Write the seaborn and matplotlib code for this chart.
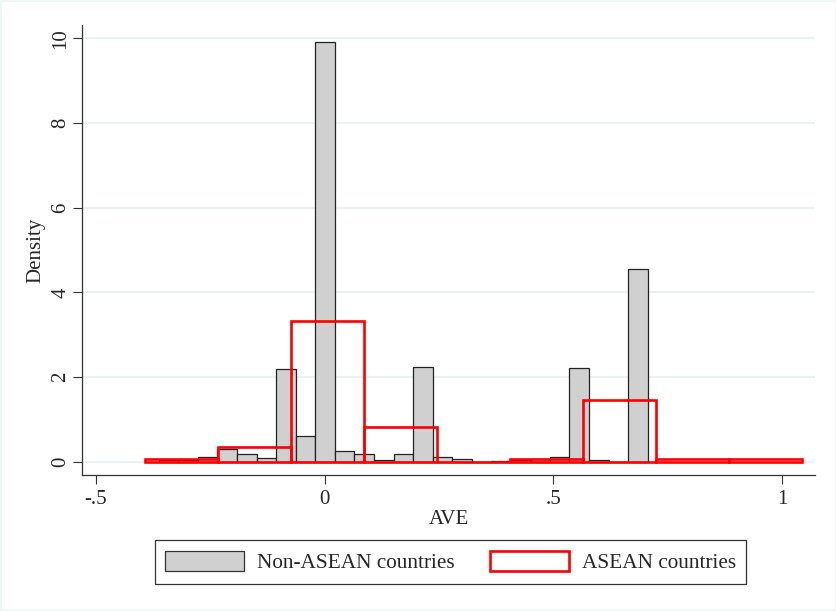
import numpy as np
import pandas as pd
import seaborn as sns
import matplotlib.pyplot as plt
from matplotlib.patches import Patch

# bin edges and densities
gray_edges = [-0.362, -0.319, -0.277, -0.234, -0.191, -0.148, -0.106, -0.063, -0.020,
              0.023, 0.065, 0.108, 0.151, 0.194, 0.236, 0.279, 0.322, 0.364, 0.407,
              0.450, 0.493, 0.535, 0.578, 0.621, 0.663, 0.706]
gray_density = [0.03, 0.03, 0.12, 0.29, 0.18, 0.08, 2.19, 0.61, 9.90, 0.25, 0.17, 0.04,
                0.18, 2.23, 0.10, 0.06, 0.0, 0.02, 0.03, 0.06, 0.10, 2.22, 0.03, 0.0, 4.55]

red_edges = [-0.392, -0.233, -0.073, 0.086, 0.246, 0.405, 0.564, 0.724, 0.883, 1.042]
red_density = [0.07, 0.35, 3.33, 0.83, 0.0, 0.07, 1.45, 0.07, 0.07]

x_ticks = [-0.5, 0, 0.5, 1]
x_ticklabels = ['-.5', '0', '.5', '1']
y_ticks = [0, 2, 4, 6, 8, 10]

sns.set_style('white')
plt.rcParams['font.family'] = ['Liberation Serif', 'DejaVu Serif']

def centers(edges):
    e = np.asarray(edges)
    return (e[:-1] + e[1:]) / 2

gray_df = pd.DataFrame({'AVE': centers(gray_edges), 'w': gray_density})
red_df = pd.DataFrame({'AVE': centers(red_edges), 'w': red_density})

fig = plt.figure(figsize=(8.37, 6.11), dpi=100)
ax = fig.add_axes([82 / 837, 1 - 475 / 611, (815 - 82) / 837, (475 - 25) / 611])

ax.grid(axis='y', color='#eaf2f3', linewidth=1.5, zorder=0)
ax.set_axisbelow(True)

sns.histplot(data=gray_df, x='AVE', weights='w', bins=gray_edges, stat='count',
             color='#d0d0d0', edgecolor='#222222', linewidth=0.9, alpha=1, ax=ax)
sns.histplot(data=red_df, x='AVE', weights='w', bins=red_edges, stat='count',
             fill=False, element='bars', color='red', edgecolor='red', linewidth=1.9, ax=ax)

ax.set_xlim(-0.5297, 1.0714)
ax.set_ylim(-0.314, 10.31)
ax.set_xticks(x_ticks)
ax.set_xticklabels(x_ticklabels)
ax.set_yticks(y_ticks)
ax.tick_params(axis='both', labelsize=15, length=6.5, width=0.8, color='#333333',
               direction='out', bottom=True, left=True, pad=4)
ax.tick_params(axis='y', pad=2)
for lab in ax.get_yticklabels():
    lab.set_rotation(90)
    lab.set_va('center')
ax.set_xlabel('AVE', fontsize=15, labelpad=1)
ax.set_ylabel('Density', fontsize=15, labelpad=4)

for s in ['top', 'right']:
    ax.spines[s].set_visible(False)
for s in ['left', 'bottom']:
    ax.spines[s].set_color('#333333')
    ax.spines[s].set_linewidth(0.9)

handles = [Patch(facecolor='#d0d0d0', edgecolor='#333333', linewidth=0.9),
           Patch(facecolor='white', edgecolor='red', linewidth=1.9)]
leg = fig.legend(handles, ['Non-ASEAN countries', 'ASEAN countries'], loc='center',
                 bbox_to_anchor=(450.5 / 837, 1 - 562 / 611), ncol=2, fontsize=15.3,
                 frameon=True, fancybox=False, handlelength=3.7, handleheight=1.05,
                 columnspacing=1.7, handletextpad=0.6, borderpad=0.5, borderaxespad=0)
leg.get_frame().set_edgecolor('black')
leg.get_frame().set_linewidth(0.9)

fig.patch.set_edgecolor('#f0f5f6')
fig.patch.set_linewidth(1.5)

fig.savefig('out.png', dpi=100, edgecolor=fig.get_edgecolor())
